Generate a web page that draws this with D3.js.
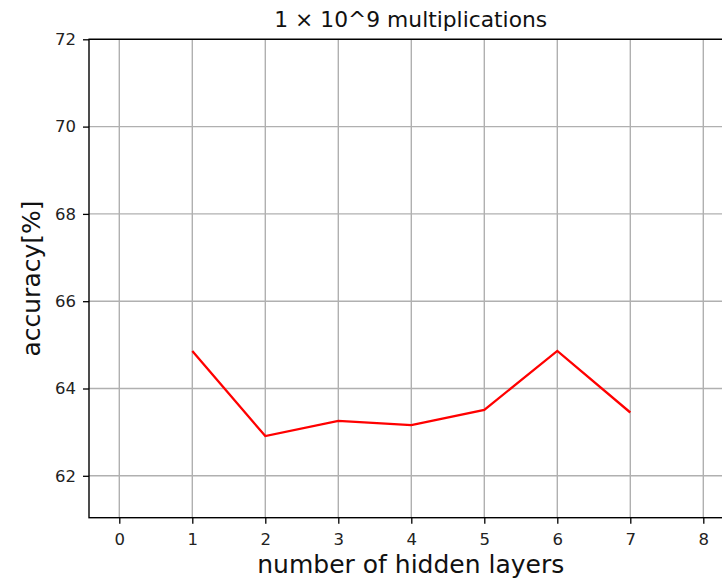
<!DOCTYPE html>
<html>
<head>
<meta charset="utf-8">
<script src="https://cdn.jsdelivr.net/npm/d3@7"></script>
<style>
  body { margin: 0; background: #fff; }
  svg { display: block; font-family: "DejaVu Sans", sans-serif; }
</style>
</head>
<body>
<div id="graph"></div>
<script>
var layers = [1, 2, 3, 4, 5, 6, 7]
var accuracy = [64.86, 62.91, 63.26, 63.16, 63.51, 64.86, 63.45]
var xTicks = [0, 1, 2, 3, 4, 5, 6, 7, 8]
var yTicks = [62, 64, 66, 68, 70, 72]

var title = '1 \u00d7 10^9 multiplications'
var xLabel = 'number of hidden layers'
var yLabel = 'accuracy[%]'

var width = 722, height = 579
var plot = {left: 89, right: 732.5, top: 39.3, bottom: 517.7}

var svg = d3.select('#graph').append('svg')
  .attr('width', width)
  .attr('height', height)

var x = d3.scaleLinear().domain([-0.415, 8.4]).range([plot.left, plot.right])
var y = d3.scaleLinear().domain([61.04, 72]).range([plot.bottom, plot.top])

// grid
svg.append('g').selectAll('line').data(xTicks).join('line')
  .attr('x1', d => x(d)).attr('x2', d => x(d))
  .attr('y1', plot.top).attr('y2', plot.bottom)
  .attr('stroke', '#b0b0b0').attr('stroke-width', 1.4)

svg.append('g').selectAll('line').data(yTicks).join('line')
  .attr('x1', plot.left).attr('x2', plot.right)
  .attr('y1', d => y(d)).attr('y2', d => y(d))
  .attr('stroke', '#b0b0b0').attr('stroke-width', 1.4)

// data line
var line = d3.line()
  .x((d, i) => x(layers[i]))
  .y(d => y(d))

svg.append('path')
  .attr('d', line(accuracy))
  .attr('fill', 'none')
  .attr('stroke', '#ff0000')
  .attr('stroke-width', 2.3)

// axes
var xAxis = d3.axisBottom(x).tickValues(xTicks).tickFormat(d3.format('d'))
  .tickSize(6).tickPadding(9.6).tickSizeOuter(0)
var yAxis = d3.axisLeft(y).tickValues(yTicks).tickFormat(d3.format('d'))
  .tickSize(6).tickPadding(7).tickSizeOuter(0)

var gx = svg.append('g').attr('transform', `translate(0,${plot.bottom})`).call(xAxis)
var gy = svg.append('g').attr('transform', `translate(${plot.left},0)`).call(yAxis)

;[gx, gy].forEach(g => {
  g.select('.domain').remove()
  g.selectAll('.tick line').attr('stroke', '#000').attr('stroke-width', 1.3)
  g.selectAll('.tick text')
    .attr('fill', '#222')
    .style('font-family', '"DejaVu Sans", sans-serif')
    .style('font-size', '16.5px')
})

// spines
svg.append('rect')
  .attr('x', plot.left).attr('y', plot.top)
  .attr('width', plot.right - plot.left).attr('height', plot.bottom - plot.top)
  .attr('fill', 'none').attr('stroke', '#000').attr('stroke-width', 1.4)

// title and labels
svg.append('text')
  .attr('x', (plot.left + plot.right) / 2).attr('y', 27)
  .attr('text-anchor', 'middle')
  .style('font-size', '21.8px')
  .attr('fill', '#111')
  .text(title)

svg.append('text')
  .attr('x', (plot.left + plot.right) / 2).attr('y', 573)
  .attr('text-anchor', 'middle')
  .style('font-size', '25px')
  .attr('fill', '#111')
  .text(xLabel)

svg.append('text')
  .attr('transform', `translate(40,${(plot.top + plot.bottom) / 2}) rotate(-90)`)
  .attr('text-anchor', 'middle')
  .style('font-size', '25px')
  .attr('fill', '#111')
  .text(yLabel)
</script>
</body>
</html>
